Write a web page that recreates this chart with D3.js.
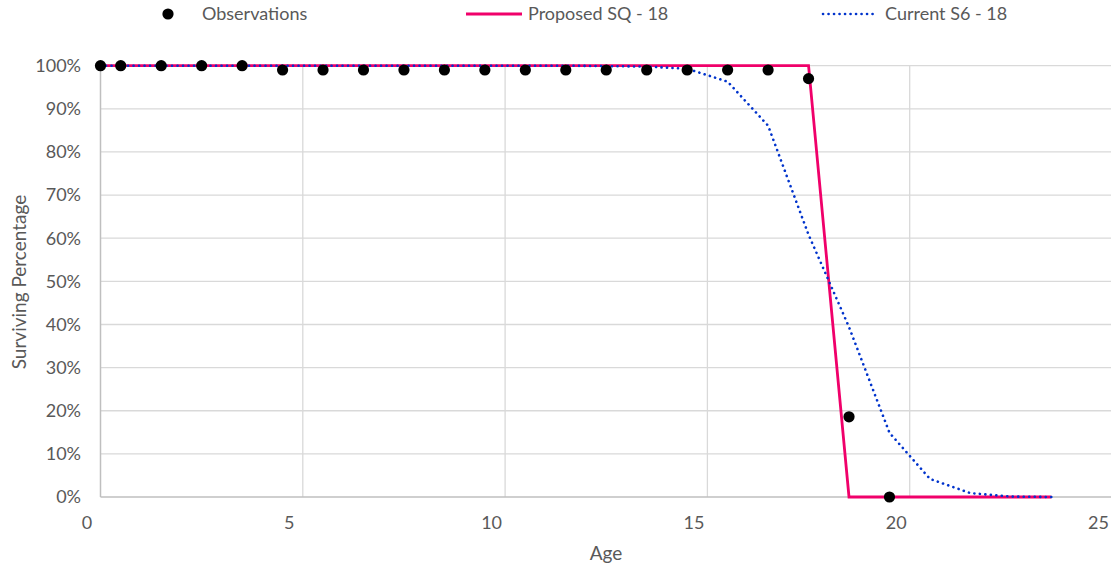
<!DOCTYPE html>
<html><head><meta charset="utf-8">
<script src="https://cdn.jsdelivr.net/npm/d3@7"></script>
<style>body{margin:0;background:#fff}svg{display:block}text{font-family:Lato,"Open Sans",sans-serif;fill:#595959}</style>
</head><body><svg id="c" width="1111" height="568"></svg>
<script>
const obsAges = [0,0.5,1.5,2.5,3.5,4.5,5.5,6.5,7.5,8.5,9.5,10.5,11.5,12.5,13.5,14.5,15.5,16.5,17.5,18.5,19.5];
const obsValues = [100,100,100,100,100,99,99,99,99,99,99,99,99,99,99,99,99,99,97,18.6,0];
const curveAges = [0,0.5,1.5,2.5,3.5,4.5,5.5,6.5,7.5,8.5,9.5,10.5,11.5,12.5,13.5,14.5,15.5,16.5,17.5,18.5,19.5,20.5,21.5,22.5,23.5];
const proposedValues = [100,100,100,100,100,100,100,100,100,100,100,100,100,100,100,100,100,100,100,0,0,0,0,0,0];
const currentValues = [100,100,100,100,100,100,100,100,100,100,100,100,100,99.9,99.8,99.3,96.3,86.1,60.8,39.4,14.9,4.2,0.9,0.1,0];
const xTicks = [0,5,10,15,20,25];
const yTicks = [0,10,20,30,40,50,60,70,80,90,100];
const seriesNames = ["Observations","Proposed SQ - 18","Current S6 - 18"];

const svg = d3.select("#c");
const x = d3.scaleLinear().domain([0,25]).range([100.5,1112]);
const y = d3.scaleLinear().domain([0,100]).range([497,65.7]);
const red = "#f0006a", blue = "#0033cc", grid = "#d9d9d9", axisCol = "#bfbfbf";

// gridlines
svg.append("g").selectAll("line").data(yTicks.filter(d=>d>0)).join("line")
  .attr("x1", x(0)).attr("x2", x(25)).attr("y1", d=>y(d)).attr("y2", d=>y(d))
  .attr("stroke", grid).attr("stroke-width",1.3);
svg.append("g").selectAll("line").data(xTicks.filter(d=>d>0)).join("line")
  .attr("x1", d=>x(d)).attr("x2", d=>x(d)).attr("y1", y(0)).attr("y2", y(100))
  .attr("stroke", grid).attr("stroke-width",1.3);
// axes lines
svg.append("line").attr("x1",x(0)).attr("x2",x(0)).attr("y1",y(0)).attr("y2",y(100)).attr("stroke",axisCol).attr("stroke-width",1.5);
svg.append("line").attr("x1",x(0)).attr("x2",x(25)).attr("y1",y(0)).attr("y2",y(0)).attr("stroke",axisCol).attr("stroke-width",1.5);

// tick labels
svg.append("g").selectAll("text").data(yTicks).join("text")
  .attr("x", 81).attr("y", d=>y(d)).attr("dy","0.35em").attr("text-anchor","end")
  .attr("font-size",18).text(d=>d+"%");
svg.append("g").selectAll("text").data(xTicks).join("text")
  .attr("x", d=>x(d)-13.5).attr("y", 523).attr("dy","0.35em").attr("text-anchor","middle")
  .attr("font-size",18).text(d=>d);

// axis titles
svg.append("text").attr("x",606).attr("y",553).attr("dy","0.35em").attr("text-anchor","middle").attr("font-size",19).text("Age");
svg.append("text").attr("transform","translate(19,282) rotate(-90)").attr("dy","0.35em").attr("text-anchor","middle").attr("font-size",19).text("Surviving Percentage");

const line = d3.line().x(d=>x(d[0])).y(d=>y(d[1]));
svg.append("path").datum(curveAges.map((a,i)=>[a,proposedValues[i]]))
  .attr("d", line).attr("fill","none").attr("stroke",red).attr("stroke-width",2.8).attr("stroke-linejoin","miter");
svg.append("path").datum(curveAges.map((a,i)=>[a,currentValues[i]]))
  .attr("d", line).attr("fill","none").attr("stroke",blue).attr("stroke-width",2.6)
  .attr("stroke-dasharray","0.1 5.4").attr("stroke-linecap","round");

svg.append("g").selectAll("circle").data(obsAges.map((a,i)=>[a,obsValues[i]])).join("circle")
  .attr("cx", d=>x(d[0])).attr("cy", d=>y(d[1])).attr("r",5.6).attr("fill","#000");

// legend
const lg = svg.append("g");
lg.append("circle").attr("cx",168).attr("cy",14).attr("r",5.6).attr("fill","#000");
lg.append("text").attr("x",202).attr("y",14).attr("dy","0.35em").attr("font-size",18).text(seriesNames[0]);
lg.append("line").attr("x1",466).attr("x2",522).attr("y1",14).attr("y2",14).attr("stroke",red).attr("stroke-width",2.8);
lg.append("text").attr("x",528).attr("y",14).attr("dy","0.35em").attr("font-size",18).text(seriesNames[1]);
lg.append("line").attr("x1",823).attr("x2",877).attr("y1",14).attr("y2",14).attr("stroke",blue).attr("stroke-width",2.6).attr("stroke-dasharray","0.1 5.4").attr("stroke-linecap","round");
lg.append("text").attr("x",885).attr("y",14).attr("dy","0.35em").attr("font-size",18).text(seriesNames[2]);
</script></body></html>
